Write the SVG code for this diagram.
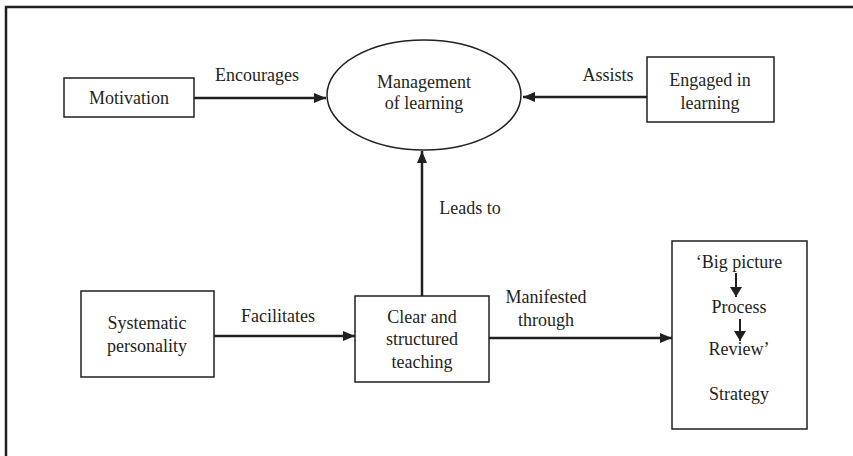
<svg xmlns="http://www.w3.org/2000/svg" width="853" height="456" viewBox="0 0 853 456">
<defs>
<style>
.box{fill:#fff;stroke:#231f20;stroke-width:1.5}
.lbl{font-size:18px;fill:#231f20;text-anchor:middle}
.con{stroke:#231f20;stroke-width:2.5;fill:none}
.thin{stroke:#231f20;stroke-width:2;fill:none}
</style>
<marker id="ah" viewBox="0 0 12 10" refX="12" refY="5" markerWidth="12" markerHeight="10" markerUnits="userSpaceOnUse" orient="auto">
<path d="M0,0 L12,5 L0,10 Z" fill="#231f20"/>
</marker>
<marker id="ahs" viewBox="0 0 10 12" refX="10" refY="6" markerWidth="10" markerHeight="12" markerUnits="userSpaceOnUse" orient="auto">
<path d="M0,0 L10,6 L0,12 Z" fill="#231f20"/>
</marker>
</defs>
<rect width="853" height="456" fill="#fff"/>
<path d="M6,456 V7 H853" fill="none" stroke="#231f20" stroke-width="2.5"/>
<g font-family="Liberation Serif, Times New Roman, DejaVu Serif, serif">
<g id="connectors">
<line class="con" x1="194" y1="98" x2="326" y2="98" marker-end="url(#ah)"/>
<text class="lbl" x="257" y="81">Encourages</text>
<line class="con" x1="647" y1="97" x2="523" y2="97" marker-end="url(#ah)"/>
<text class="lbl" x="608" y="81">Assists</text>
<line class="con" x1="422" y1="296" x2="422" y2="151" marker-end="url(#ah)"/>
<text class="lbl" x="470" y="214">Leads to</text>
<line class="con" x1="214" y1="336" x2="355" y2="336" marker-end="url(#ah)"/>
<text class="lbl" x="278" y="322">Facilitates</text>
<line class="con" x1="489" y1="338" x2="672" y2="338" marker-end="url(#ah)"/>
<text class="lbl" x="546" y="303">Manifested</text>
<text class="lbl" x="546" y="326">through</text>
</g>

<g id="motivation">
<rect class="box" x="64" y="78" width="130" height="39"/>
<text class="lbl" x="129" y="104">Motivation</text>
</g>

<g id="management">
<ellipse class="box" cx="424" cy="95" rx="97" ry="55"/>
<text class="lbl" x="424" y="88">Management</text>
<text class="lbl" x="424" y="109">of learning</text>
</g>

<g id="engaged">
<rect class="box" x="647" y="57" width="127" height="65"/>
<text class="lbl" x="710" y="86">Engaged in</text>
<text class="lbl" x="710" y="109">learning</text>
</g>

<g id="systematic">
<rect class="box" x="81" y="291" width="133" height="86"/>
<text class="lbl" x="147" y="329">Systematic</text>
<text class="lbl" x="147" y="352">personality</text>
</g>

<g id="clear">
<rect class="box" x="355" y="296" width="134" height="86"/>
<text class="lbl" x="422" y="323">Clear and</text>
<text class="lbl" x="422" y="345">structured</text>
<text class="lbl" x="422" y="368">teaching</text>
</g>

<g id="strategy">
<rect class="box" x="672" y="241" width="135" height="188"/>
<text class="lbl" x="739" y="268">‘Big picture</text>
<line class="thin" x1="736" y1="273" x2="736" y2="297" marker-end="url(#ahs)"/>
<text class="lbl" x="739" y="313">Process</text>
<line class="thin" x1="740" y1="319" x2="740" y2="341" marker-end="url(#ahs)"/>
<text class="lbl" x="739" y="355">Review’</text>
<text class="lbl" x="739" y="400">Strategy</text>
</g>
</g>
</svg>
